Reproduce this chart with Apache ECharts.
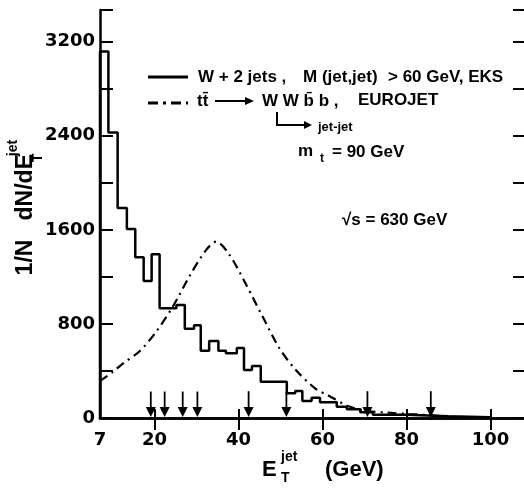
<!DOCTYPE html>
<html>
<head>
<meta charset="utf-8">
<script src="https://cdn.jsdelivr.net/npm/echarts@6/dist/echarts.min.js"></script>
<style>
  html, body { margin: 0; padding: 0; background: #fff; }
  #cv { width: 524px; height: 490px; }
</style>
</head>
<body>
<div id="cv"></div>
<script>
// W + 2 jets histogram (EKS): bin edges and heights
var binEdges = [7, 9, 11.2, 13.4, 15.4, 17.4, 19.3, 21.2, 25.2, 27.2, 29.4, 31, 33, 35.2, 37, 39.6, 41.3, 43.2, 45.3, 51.5, 53.5, 55.2, 57.4, 59.4, 63.4, 65.8, 69, 72, 80, 90, 100];
var wJets = [3117, 2428, 1785, 1608, 1368, 1166, 1393, 933, 962, 760, 788, 573, 655, 573, 550, 595, 408, 442, 309, 210, 230, 145, 173, 135, 96, 74, 48, 28, 14, 7];

// tt -> WWbb (EUROJET) curve
var ttX = [7, 10, 12.5, 16.5, 20.4, 24.4, 28.3, 32.3, 34.7, 37.8, 41.8, 45.7, 49.7, 53.6, 58.3, 61.5, 66.2, 71, 75.7, 80.5, 85.2, 89.9, 95, 100];
var ttY = [315, 390, 465, 570, 735, 950, 1205, 1430, 1500, 1390, 1135, 865, 595, 410, 250, 190, 100, 58, 45, 34, 25, 12, 6, 4];

// event arrows along the axis
var arrowX = [19.1, 22.4, 26.7, 30.2, 42.4, 51.4, 70.7, 85.8];
var arrowTop = [225, 225, 225, 225, 228, 225, 228, 228];

var xLabels = [7, 20, 40, 60, 80, 100];
var xTicks = [20, 40, 60, 80, 100];

var histPts = [[binEdges[0], 0]];
for (var i = 0; i < wJets.length; i++) {
    histPts.push([binEdges[i], wJets[i]]);
    histPts.push([binEdges[i + 1], wJets[i]]);
}
histPts.push([binEdges[binEdges.length - 1], 0]);

var ttPts = ttX.map(function (x, i) { return [x, ttY[i]]; });
var arrowPts = arrowX.map(function (x, i) { return [x, arrowTop[i]]; });

var tickFont = { fontFamily: 'DejaVu Sans', fontWeight: 'bold', fontSize: 18, color: '#000' };
var txtFont = 'bold 17px "Liberation Sans", Arial, sans-serif';

function txt(s, x, y, font) {
    return { type: 'text', x: x, y: y, style: { text: s, font: font || txtFont, fill: '#000', align: 'left', verticalAlign: 'middle' } };
}
function seg(x1, y1, x2, y2, w) {
    return { type: 'line', shape: { x1: x1, y1: y1, x2: x2, y2: y2 }, style: { stroke: '#000', lineWidth: w || 2 } };
}

var myChart = echarts.init(document.getElementById('cv'));
var option = {
    animation: false,
    grid: { left: 100, top: 10, width: 426, height: 408 },
    xAxis: [{
        type: 'value', min: 7, max: 108, position: 'bottom',
        axisLine: { lineStyle: { color: '#000', width: 2.5 } },
        axisTick: { inside: true, length: 9, customValues: xTicks, lineStyle: { color: '#000', width: 2 } },
        axisLabel: Object.assign({ customValues: xLabels, margin: 13 }, tickFont),
        splitLine: { show: false }
    }, {
        type: 'value', min: 7, max: 108, position: 'top',
        axisLine: { lineStyle: { color: '#000', width: 2.5 } },
        axisTick: { inside: true, length: 12, customValues: xTicks, lineStyle: { color: '#000', width: 2 } },
        axisLabel: { show: false },
        splitLine: { show: false }
    }],
    yAxis: [{
        type: 'value', min: 0, max: 3470, interval: 400,
        axisLine: { show: true, lineStyle: { color: '#000', width: 2.5 } },
        axisTick: { show: true, inside: true, length: 13, lineStyle: { color: '#000', width: 2 } },
        axisLabel: Object.assign({
            margin: 5,
            formatter: function (v) { return v % 800 === 0 ? String(v) : ''; }
        }, tickFont),
        splitLine: { show: false }
    }, {
        type: 'value', min: 0, max: 3470, interval: 400, position: 'right',
        axisLine: { show: false },
        axisTick: { show: true, inside: true, length: 11, lineStyle: { color: '#000', width: 2 } },
        axisLabel: { show: false },
        splitLine: { show: false }
    }],
    series: [{
        name: 'W + 2 jets',
        type: 'line',
        data: histPts,
        showSymbol: false,
        lineStyle: { color: '#000', width: 2.5 },
        z: 3
    }, {
        name: 'tt',
        type: 'line',
        data: ttPts,
        smooth: 0.3,
        showSymbol: false,
        lineStyle: { color: '#000', width: 2.2, type: [9, 5, 2, 5] },
        z: 2
    }, {
        name: 'arrows',
        type: 'custom',
        data: arrowPts,
        z: 4,
        renderItem: function (params, api) {
            var top = api.coord([api.value(0), api.value(1)]);
            var bot = api.coord([api.value(0), 0]);
            return {
                type: 'group',
                children: [{
                    type: 'line',
                    shape: { x1: top[0], y1: top[1], x2: bot[0], y2: bot[1] - 6 },
                    style: { stroke: '#000', lineWidth: 1.8 }
                }, {
                    type: 'polygon',
                    shape: { points: [[bot[0] - 5, bot[1] - 11], [bot[0] + 5, bot[1] - 11], [bot[0], bot[1] - 1]] },
                    style: { fill: '#000' }
                }]
            };
        }
    }],
    graphic: [
        // legend samples
        seg(148, 77, 188, 77, 3),
        { type: 'line', shape: { x1: 148, y1: 103, x2: 188, y2: 103 }, style: { stroke: '#000', lineWidth: 3, lineDash: [10, 5, 3, 5] } },
        txt('W + 2 jets ,', 198, 77),
        txt('M (jet,jet)', 303, 77),
        txt('> 60 GeV, EKS', 388, 77),
        txt('tt\u0304', 197, 101),
        seg(215, 101, 246, 101, 2),
        { type: 'polygon', shape: { points: [[245, 97], [254, 101], [245, 105]] }, style: { fill: '#000' } },
        txt('W W b\u0304 b ,', 262, 101),
        txt('EUROJET', 358, 100),
        seg(277, 112, 277, 125, 2),
        seg(276, 125, 305, 125, 2),
        { type: 'polygon', shape: { points: [[304, 121], [312, 125], [304, 129]] }, style: { fill: '#000' } },
        txt('jet-jet', 318, 127, 'bold 13px "Liberation Sans", Arial, sans-serif'),
        txt('m', 298, 151),
        txt('t', 320, 159, 'bold 12px "Liberation Sans", Arial, sans-serif'),
        txt('= 90 GeV', 332, 152),
        txt('\u221As = 630 GeV', 342, 220),
        // axis titles
        {
            type: 'text', x: 26, y: 154, rotation: Math.PI / 2,
            style: { text: '1/N   dN/dE', font: 'bold 23px "Liberation Sans", Arial, sans-serif', fill: '#000', align: 'right', verticalAlign: 'middle' }
        },
        {
            type: 'text', x: 13, y: 148, rotation: Math.PI / 2,
            style: { text: 'jet', font: 'bold 14px "Liberation Sans", Arial, sans-serif', fill: '#000', align: 'center', verticalAlign: 'middle' }
        },
        {
            type: 'text', x: 38, y: 158, rotation: Math.PI / 2,
            style: { text: 'T', font: 'bold 14px "Liberation Sans", Arial, sans-serif', fill: '#000', align: 'center', verticalAlign: 'middle' }
        },
        txt('E', 262, 470, 'bold 22px "Liberation Sans", Arial, sans-serif'),
        txt('jet', 281, 457, 'bold 14px "Liberation Sans", Arial, sans-serif'),
        txt('T', 281, 478, 'bold 14px "Liberation Sans", Arial, sans-serif'),
        txt('(GeV)', 325, 470, 'bold 22px "Liberation Sans", Arial, sans-serif')
    ]
};
myChart.setOption(option);

window.addEventListener('resize', function () {
    if (myChart != null && myChart != undefined) {
        myChart.resize();
    }
});
</script>
</body>
</html>
